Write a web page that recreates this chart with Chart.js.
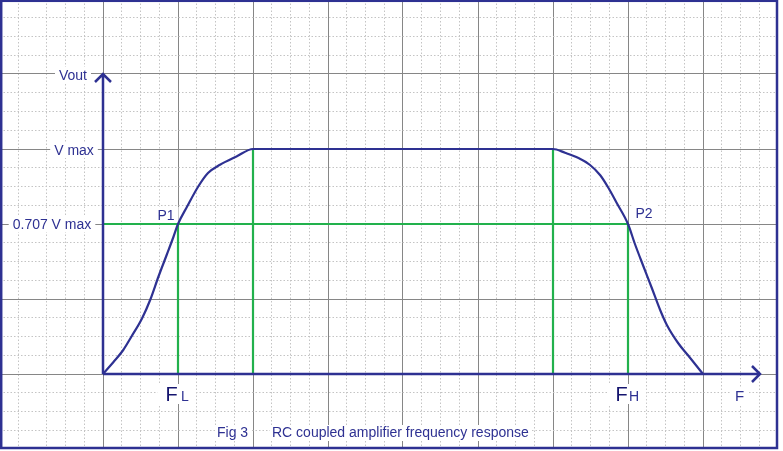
<!DOCTYPE html>
<html>
<head>
<meta charset="utf-8">
<script src="https://cdn.jsdelivr.net/npm/chart.js@4/dist/chart.umd.min.js"></script>
<style>
  html, body { margin: 0; padding: 0; background: #fff; }
  canvas { display: block; }
</style>
</head>
<body>
<canvas id="grafica" width="783" height="451"></canvas>
<script>
// respuesta en frecuencia (unidades de cuadricula: 1 = division mayor)
const frecuencias = [0, 0.14, 0.27, 0.38, 0.52, 0.63, 0.74, 0.85, 0.94, 1, 1.12, 1.27, 1.4, 1.56, 1.78, 2,
                     6, 6.16, 6.34, 6.49, 6.63, 6.74, 6.85, 7, 7.09, 7.2, 7.32, 7.43, 7.52, 7.67, 7.8, 7.96, 8];
const vout = [0, 0.16, 0.32, 0.5, 0.74, 0.99, 1.3, 1.59, 1.83, 2, 2.23, 2.5, 2.68, 2.79, 2.9, 3,
              3, 2.95, 2.88, 2.79, 2.65, 2.48, 2.28, 2, 1.74, 1.45, 1.14, 0.85, 0.65, 0.41, 0.25, 0.05, 0];

// lineas verdes de referencia
const nivel707 = 2;
const vmax = 3;
const fl = 1, fh = 7;
const verticalesX = [fl, 2, 6, fh];
const verticalesAlto = [nivel707, vmax, vmax, nivel707];

// cuadricula
const mayoresX = [0, 1, 2, 3, 4, 5, 6, 7, 8];
const mayoresY = [0, 1, 2, 3, 4];
const menoresX = [-1.12, -0.75, -0.5, -0.25];
for (let i = 0; i < 9; i++) menoresX.push(i + 0.25, i + 0.5, i + 0.75);
const menoresY = [-0.75, -0.5, -0.25];
for (let i = 0; i < 5; i++) menoresY.push(i + 0.25, i + 0.5, i + 0.75);

const AZUL = '#2e3192';
const VERDE = '#22b14c';
const FUENTE = "'Liberation Sans', Arial, sans-serif";

const textos = [
    { t: 'Vout', x: 0, y: 4, dx: -30, dy: 6, size: 14, align: 'center' },
    { t: 'V max', x: 0, y: vmax, dx: -29, dy: 6, size: 14, align: 'center' },
    { t: '0.707 V max', x: 0, y: nivel707, dx: -51, dy: 5, size: 14, align: 'center' },
    { t: 'P1', x: fl, y: nivel707, dx: -12, dy: -4, size: 14, align: 'center' },
    { t: 'P2', x: fh, y: nivel707, dx: 16, dy: -6, size: 14, align: 'center' },
    { t: 'F', x: fl, y: 0, dx: -12.5, dy: 27, size: 20, align: 'left', color: '#14146e', pad: 8 },
    { t: 'L', x: fl, y: 0, dx: 3, dy: 27, size: 14, align: 'left', pad: 7 },
    { t: 'F', x: fh, y: 0, dx: -12.5, dy: 27, size: 20, align: 'left', color: '#14146e', pad: 8 },
    { t: 'H', x: fh, y: 0, dx: 1, dy: 27, size: 14, align: 'left', pad: 7 },
    { t: 'F', x: 8.76, y: 0, dx: -25, dy: 27, size: 15, align: 'left' },
    { t: 'Fig 3', x: 2, y: -1, dx: -36, dy: -12, size: 14, align: 'left', padY: 1, pad: 2 },
    { t: 'RC coupled amplifier frequency response', x: 2, y: -1, dx: 19, dy: -12, size: 14, align: 'left', padY: 1, pad: 2 }
];

const pluginDibujo = {
    id: 'dibujo',
    beforeDatasetsDraw(chart) {
        const { ctx, scales: { x, y } } = chart;
        ctx.save();
        let cajas = textos.map(l => {
            ctx.font = l.size + 'px ' + FUENTE;
            let m = ctx.measureText(l.t);
            let px = x.getPixelForValue(l.x) + l.dx;
            let py = y.getPixelForValue(l.y) + l.dy;
            let x0 = l.align == 'center' ? px - m.width / 2 : px;
            let pad = l.pad ?? 4, padY = l.padY ?? 3;
            return { l, px, py, x0: x0 - pad, x1: x0 + m.width + pad,
                     y0: py - m.actualBoundingBoxAscent - padY, y1: py + m.actualBoundingBoxDescent + padY };
        });
        ctx.fillStyle = '#fff';
        cajas.forEach(c => ctx.fillRect(c.x0, c.y0, c.x1 - c.x0, c.y1 - c.y0));
        cajas.forEach(({ l, px, py }) => {
            ctx.font = l.size + 'px ' + FUENTE;
            ctx.fillStyle = l.color || AZUL;
            ctx.textAlign = l.align;
            ctx.textBaseline = 'alphabetic';
            ctx.fillText(l.t, px, py);
        });
        ctx.restore();
    },
    afterDatasetsDraw(chart) {
        const { ctx, scales: { x, y } } = chart;
        let ox = x.getPixelForValue(0), oy = y.getPixelForValue(0);
        let ty = y.getPixelForValue(4), tx = x.getPixelForValue(8.76);
        ctx.save();
        ctx.strokeStyle = AZUL;
        ctx.lineWidth = 2.5;
        ctx.beginPath();
        ctx.moveTo(ox, oy); ctx.lineTo(ox, ty);
        ctx.moveTo(ox - 8, ty + 8); ctx.lineTo(ox, ty); ctx.lineTo(ox + 8, ty + 8);
        ctx.moveTo(ox, oy); ctx.lineTo(tx, oy);
        ctx.moveTo(tx - 8, oy - 8); ctx.lineTo(tx, oy); ctx.lineTo(tx - 8, oy + 8);
        ctx.stroke();
        ctx.restore();
    },
    afterDraw(chart) {
        const { ctx } = chart;
        ctx.save();
        ctx.strokeStyle = AZUL;
        ctx.lineWidth = 2.5;
        ctx.strokeRect(1.2, 0.8, 775.8, 447.2);
        ctx.restore();
    }
};

function ticksFijos(valores) {
    return axis => { axis.ticks = valores.map(v => ({ value: v })); };
}

function eje(pos, valores, mayor, min, max) {
    return {
        type: 'linear', position: pos, min, max,
        afterBuildTicks: ticksFijos(valores),
        ticks: { display: false },
        border: { display: false, dash: mayor ? [] : [1.5, 2] },
        grid: { drawTicks: false, color: mayor ? '#868686' : '#c4c4c4', lineWidth: 1 }
    };
}

const datasets = [{
    data: frecuencias.map((f, i) => ({ x: f, y: vout[i] })),
    showLine: true, borderColor: AZUL, borderWidth: 2.2, pointRadius: 0,
    cubicInterpolationMode: 'monotone', order: 0
}, {
    data: [{ x: 0, y: nivel707 }, { x: fh, y: nivel707 }],
    showLine: true, borderColor: VERDE, borderWidth: 2.2, pointRadius: 0, order: 1
}];
verticalesX.forEach((vx, i) => {
    datasets.push({
        data: [{ x: vx, y: 0 }, { x: vx, y: verticalesAlto[i] }],
        showLine: true, borderColor: VERDE, borderWidth: 2.2, pointRadius: 0, order: 1
    });
});

const xMin = -103 / 75, xMax = 9, yMin = -1, yMax = 374 / 75;

new Chart(document.getElementById('grafica'), {
    type: 'scatter',
    data: { datasets },
    options: {
        responsive: false,
        devicePixelRatio: 1,
        animation: false,
        layout: { padding: { left: 0, top: 0, right: 5, bottom: 2 } },
        plugins: { legend: { display: false }, tooltip: { enabled: false } },
        scales: {
            x: eje('bottom', menoresX, false, xMin, xMax),
            x2: eje('bottom', mayoresX, true, xMin, xMax),
            y: eje('left', menoresY, false, yMin, yMax),
            y2: eje('left', mayoresY, true, yMin, yMax)
        }
    },
    plugins: [pluginDibujo]
});
</script>
</body>
</html>
